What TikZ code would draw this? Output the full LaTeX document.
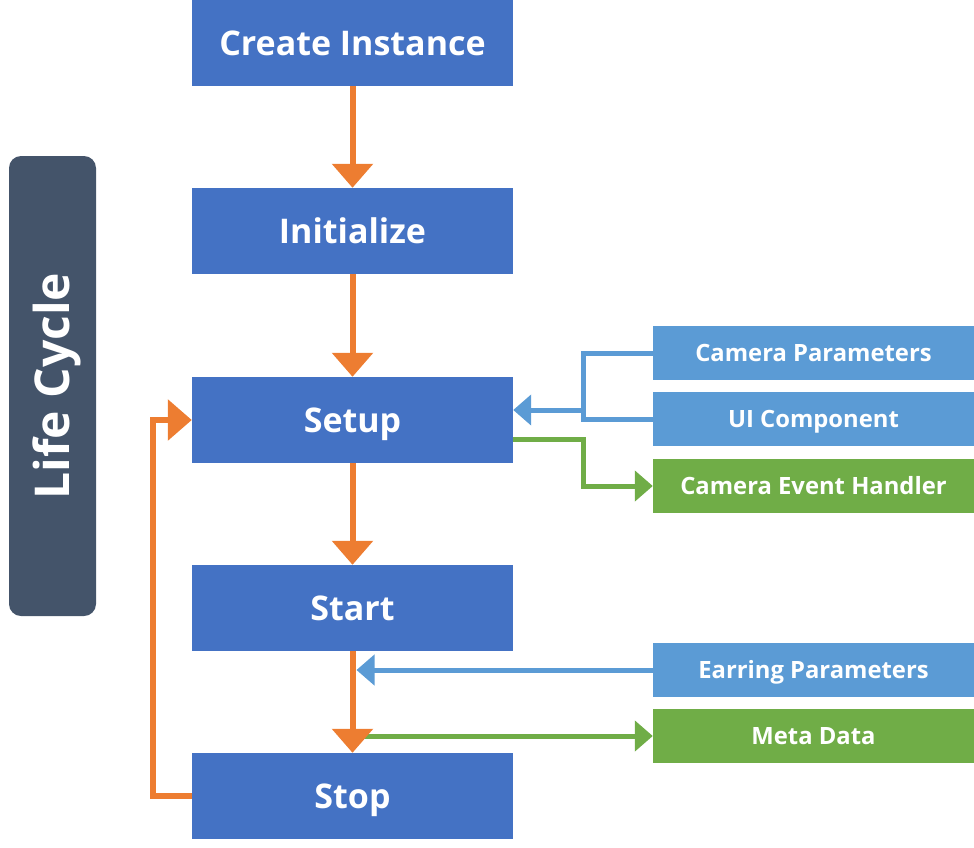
\documentclass[tikz,border=0pt]{standalone}
\usepackage{fontspec}
\setmainfont{Open Sans}
\usetikzlibrary{arrows.meta}

\definecolor{stepblue}{HTML}{4472C4}
\definecolor{sideblue}{HTML}{5B9BD5}
\definecolor{sidegreen}{HTML}{70AD47}
\definecolor{floworange}{HTML}{ED7D31}
\definecolor{slate}{HTML}{44546A}

\tikzset{
    stepbox/.style={fill=stepblue, text=white, minimum width=321pt, minimum height=86pt, inner sep=0pt, text height=24.3pt, text depth=0pt, font=\fontsize{34}{40}\selectfont\bfseries},
    sidebox/.style={minimum width=321pt, minimum height=54pt, inner sep=0pt, text=white, text height=17pt, text depth=0pt, font=\fontsize{23.8}{28}\selectfont\bfseries},
    flow/.style={draw=floworange, line width=6pt, -{Triangle[length=24pt, width=40pt]}, line join=miter},
    inflow/.style={draw=sideblue, line width=5pt, -{Triangle[length=18pt, width=30pt]}, line join=miter},
    outflow/.style={draw=sidegreen, line width=5pt, -{Triangle[length=18pt, width=30pt]}, line join=miter}
}

\begin{document}
\begin{tikzpicture}[x=1pt, y=-1pt]
        \useasboundingbox (0,0) rectangle (974,847);

        % Life cycle banner
        \node[fill=slate, rounded corners=12pt, minimum width=87pt, minimum height=460pt, inner sep=0pt] (cycle) at (52.5,386) {};
        \node[rotate=90, text=white, text height=34.3pt, text depth=0pt, inner sep=0pt, font=\fontsize{48}{56}\selectfont\bfseries] (cycletext) at (cycle.center) {Life Cycle};

        % Steps
        \foreach \y/\name/\txt in {43/create/Create Instance, 231/init/Initialize, 420/setup/Setup, 608/start/Start, 796/stop/Stop}
            {
                \node[stepbox] (\name) at (352.5,\y) {\txt};
            }

        % Inputs and outputs
        \foreach \y/\name/\col/\txt in {353/campar/sideblue/Camera Parameters, 419/uicomp/sideblue/UI Component, 486/handler/sidegreen/Camera Event Handler, 670/earring/sideblue/Earring Parameters, 736/meta/sidegreen/Meta Data}
            {
                \node[sidebox, fill=\col] (\name) at (813.5,\y) {\txt};
            }

        \coordinate (setupin) at (583,410);
        \coordinate (setupout) at (513,439);

        % Setup connectors
        \draw[sideblue, line width=5pt, line join=miter] (campar.west) -| (setupin) |- (uicomp.west);
        \draw[inflow] (setupin) -- (setupin -| setup.east);
        \draw[outflow] (setupout) -| (setupin |- handler.west) -- (handler.west);

        % Start connectors
        \draw[outflow] (meta.west -| start.south) -- (meta.west);

        % Flow
        \foreach \a/\b in {create/init, init/setup, setup/start, start/stop}
            {
                \draw[flow] (\a) -- (\b);
            }
        \draw[flow] (stop.west) -- ++(-39,0) |- (setup.west);

        \draw[inflow] (earring.west) -- ([xshift=4pt]earring.west -| start.south);
    \end{tikzpicture}
\end{document}
